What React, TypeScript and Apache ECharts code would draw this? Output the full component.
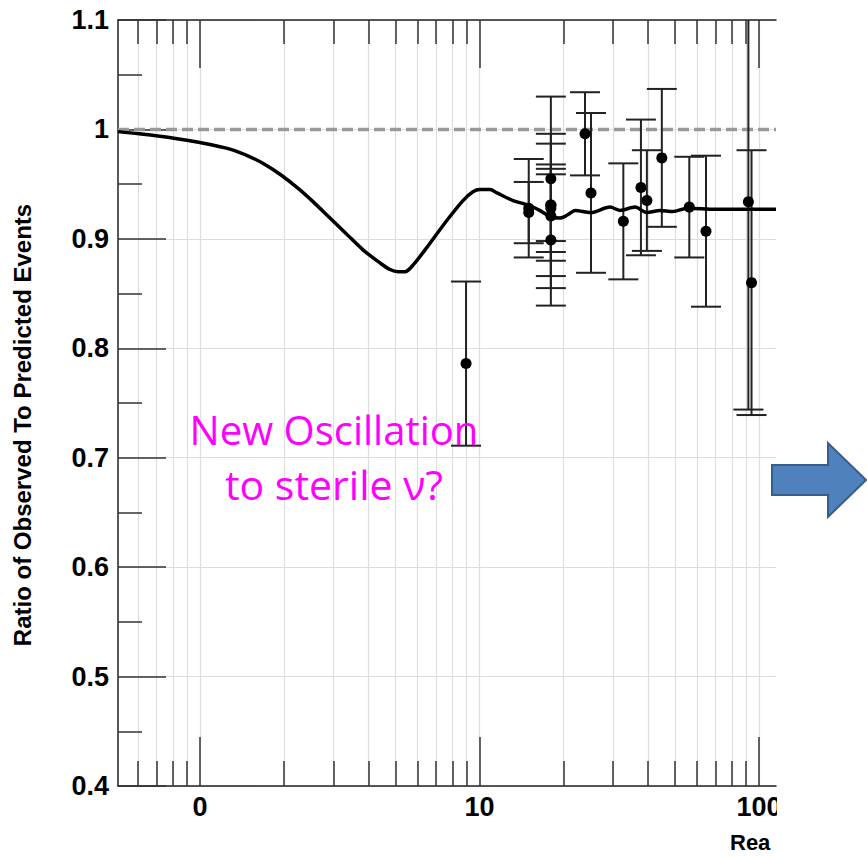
import React, { useEffect, useRef } from "react";
import * as echarts from "echarts";

// Distance axis (log scale) extent and tick positions
const X_MIN = 0.509;
const X_MAX = 115;
const xMajorTicks = [1, 10, 100];
const xMajorLabels = ["0", "10", "100"];
const xMinorTicks = [0.6, 0.7, 0.8, 0.9, 2, 3, 4, 5, 6, 7, 8, 9, 20, 30, 40, 50, 60, 70, 80, 90];

// Ratio axis
const Y_MIN = 0.4;
const Y_MAX = 1.1;
const Y_STEP = 0.1;

// Expected ratio with an extra oscillation
const curveX = [0.509, 0.605, 0.807, 1.0, 1.28, 1.51, 1.708, 1.933, 2.223, 2.537, 2.918, 3.357, 3.83, 4.406, 4.783, 5.12, 5.414, 5.783, 6.651, 7.65, 8.73, 9.478, 10.04, 10.9, 11.55, 13.18, 14.91, 16.4, 18.0, 19.4, 20.7, 22.0, 25.0, 29.3, 31.8, 36.0, 39.7, 44.2, 49.2, 55.3, 70, 115];
const curveY = [0.998, 0.996, 0.992, 0.988, 0.982, 0.975, 0.968, 0.959, 0.947, 0.934, 0.919, 0.904, 0.89, 0.878, 0.872, 0.87, 0.87, 0.876, 0.896, 0.917, 0.935, 0.943, 0.945, 0.945, 0.942, 0.935, 0.931, 0.926, 0.92, 0.919, 0.922, 0.926, 0.924, 0.929, 0.926, 0.929, 0.924, 0.926, 0.925, 0.928, 0.927, 0.927];

// No-oscillation reference
const referenceLevel = 1.0;

// Measured ratios with their uncertainties
const pointX = [8.95, 15.0, 15.0, 18.0, 18.0, 18.0, 18.0, 18.0, 18.0, 23.85, 25.05, 32.7, 37.8, 39.7, 44.9, 56.3, 64.6, 91.6, 94.0];
const pointY = [0.786, 0.928, 0.924, 0.955, 0.931, 0.921, 0.928, 0.931, 0.899, 0.996, 0.942, 0.916, 0.947, 0.935, 0.974, 0.929, 0.907, 0.934, 0.86];
const pointErr = [0.075, 0.045, 0.028, 0.075, 0.065, 0.066, 0.04, 0.033, 0.06, 0.038, 0.073, 0.053, 0.062, 0.046, 0.063, 0.046, 0.069, 0.19, 0.121];

const FONT = '"Liberation Sans", Arial, Helvetica, sans-serif';
const NOTE_FONT = '"Open Sans", "Noto Sans", sans-serif';

export default function App() {
  const ref = useRef<HTMLDivElement>(null);

  useEffect(() => {
    if (!ref.current) return;
    const chart = echarts.init(ref.current, undefined, { renderer: "svg" });

    const axisLine = { color: "#222", width: 1.5 };
    const tickLine = { color: "#333", width: 1.5 };
    const gridLine = { color: "#dddddd", width: 1.2 };
    const gridRect = { left: 118, top: 20, right: 91, bottom: 71 };

    const labelFor = (v: number) => {
      let best = 0;
      for (let i = 1; i < xMajorTicks.length; i++) {
        if (Math.abs(Math.log10(xMajorTicks[i]) - Math.log10(v)) < Math.abs(Math.log10(xMajorTicks[best]) - Math.log10(v))) best = i;
      }
      return xMajorLabels[best];
    };

    const logAxis = (grid: number, position: string, ticks: number[], len: number, extra: any) => ({
      gridIndex: grid,
      type: "log",
      logBase: 10,
      min: X_MIN,
      max: X_MAX,
      position,
      axisLine: { show: true, onZero: false, lineStyle: axisLine },
      axisTick: { show: true, inside: true, length: len, customValues: ticks, lineStyle: tickLine },
      axisLabel: { show: false },
      splitLine: { show: false },
      minorTick: { show: false },
      minorSplitLine: { show: false },
      ...extra,
    });

    const errorData = pointX.map((x, i) => [x, pointY[i], pointErr[i]]);
    const dotData = pointX.map((x, i) => [x, pointY[i]]);
    const curveData = curveX.map((x, i) => [x, curveY[i]]);

    const centered = { align: "center", verticalAlign: "middle", textAlign: "center", textVerticalAlign: "middle" };

    chart.setOption({
      animation: false,
      backgroundColor: "#ffffff",
      textStyle: { fontFamily: FONT },
      grid: [
        { ...gridRect, containLabel: false },
        { ...gridRect, containLabel: false },
      ],
      xAxis: [
        logAxis(0, "bottom", xMajorTicks, 49, {
          axisLabel: {
            show: true,
            customValues: xMajorTicks,
            formatter: (v: number) => labelFor(v),
            margin: 7,
            fontSize: 27,
            fontWeight: "bold",
            fontFamily: FONT,
            color: "#000",
          },
          splitLine: { show: true, lineStyle: gridLine },
        }),
        logAxis(0, "top", xMajorTicks, 48, {}),
        logAxis(1, "bottom", xMinorTicks, 25, {
          axisLine: { show: false },
          splitLine: { show: true, lineStyle: gridLine },
        }),
        logAxis(1, "top", xMinorTicks, 24, { axisLine: { show: false } }),
      ],
      yAxis: [
        {
          gridIndex: 0,
          type: "value",
          min: Y_MIN,
          max: Y_MAX,
          interval: Y_STEP,
          position: "left",
          axisLine: { show: true, onZero: false, lineStyle: axisLine },
          axisTick: { show: true, inside: true, length: 48, lineStyle: tickLine },
          minorTick: { show: true, splitNumber: 2, length: 24, lineStyle: tickLine },
          splitLine: { show: true, lineStyle: gridLine },
          axisLabel: {
            margin: 9,
            fontSize: 27,
            fontWeight: "bold",
            fontFamily: FONT,
            color: "#000",
          },
        },
        { gridIndex: 1, type: "value", min: Y_MIN, max: Y_MAX, show: false },
      ],
      series: [
        {
          type: "line",
          name: "reference",
          xAxisIndex: 0,
          yAxisIndex: 0,
          data: [
            [X_MIN, referenceLevel],
            [X_MAX, referenceLevel],
          ],
          symbol: "none",
          lineStyle: { color: "#999999", width: 3.5, type: [11, 5] },
          z: 2,
        },
        {
          type: "custom",
          name: "errors",
          xAxisIndex: 0,
          yAxisIndex: 0,
          clip: true,
          data: errorData,
          encode: { x: 0, y: 1 },
          renderItem: (_params: any, api: any) => {
            const x = api.value(0);
            const y = api.value(1);
            const e = api.value(2);
            const top = api.coord([x, y + e]);
            const bot = api.coord([x, y - e]);
            const half = 15;
            const style = { stroke: "#222", lineWidth: 2 };
            return {
              type: "group",
              children: [
                { type: "line", shape: { x1: top[0], y1: top[1], x2: bot[0], y2: bot[1] }, style },
                { type: "line", shape: { x1: top[0] - half, y1: top[1], x2: top[0] + half, y2: top[1] }, style },
                { type: "line", shape: { x1: bot[0] - half, y1: bot[1], x2: bot[0] + half, y2: bot[1] }, style },
              ],
            };
          },
          z: 3,
        },
        {
          type: "line",
          name: "oscillation",
          xAxisIndex: 0,
          yAxisIndex: 0,
          data: curveData,
          symbol: "none",
          smooth: 0.3,
          lineStyle: { color: "#000", width: 3.5 },
          z: 4,
        },
        {
          type: "scatter",
          name: "data",
          xAxisIndex: 0,
          yAxisIndex: 0,
          data: dotData,
          symbol: "circle",
          symbolSize: 11,
          itemStyle: { color: "#000", opacity: 1 },
          z: 5,
        },
      ],
      graphic: [
        {
          type: "text",
          x: 22,
          y: 425,
          rotation: Math.PI / 2,
          style: {
            text: "Ratio of Observed To Predicted Events",
            fontSize: 24,
            fontWeight: "bold",
            fontFamily: FONT,
            fill: "#000",
            ...centered,
          },
        },
        {
          type: "text",
          x: 334,
          y: 429,
          style: { text: "New Oscillation", fontSize: 40, fontFamily: NOTE_FONT, fill: "#FF00FF", ...centered },
          z: 50,
        },
        {
          type: "text",
          x: 334,
          y: 484,
          style: { text: "to sterile \u03bd?", fontSize: 41, fontFamily: NOTE_FONT, fill: "#FF00FF", ...centered },
          z: 50,
        },
        {
          type: "rect",
          shape: { x: 777, y: 0, width: 90, height: 857 },
          style: { fill: "#ffffff" },
          z: 100,
        },
        {
          type: "text",
          x: 730,
          y: 842,
          style: {
            text: "Rea",
            fontSize: 22,
            fontWeight: "bold",
            fontFamily: FONT,
            fill: "#000",
            align: "left",
            verticalAlign: "middle",
            textAlign: "left",
            textVerticalAlign: "middle",
          },
          z: 101,
        },
        {
          type: "polygon",
          shape: {
            points: [
              [772, 465],
              [828, 465],
              [828, 443],
              [866, 480],
              [828, 517],
              [828, 495],
              [772, 495],
            ],
          },
          style: { fill: "#4F81BD", stroke: "#385D8A", lineWidth: 2 },
          z: 102,
        },
      ],
    });

    return () => chart.dispose();
  }, []);

  return (
    <div
      ref={ref}
      style={{ position: "absolute", left: 0, top: 0, width: 867, height: 857, background: "#fff" }}
    />
  );
}
